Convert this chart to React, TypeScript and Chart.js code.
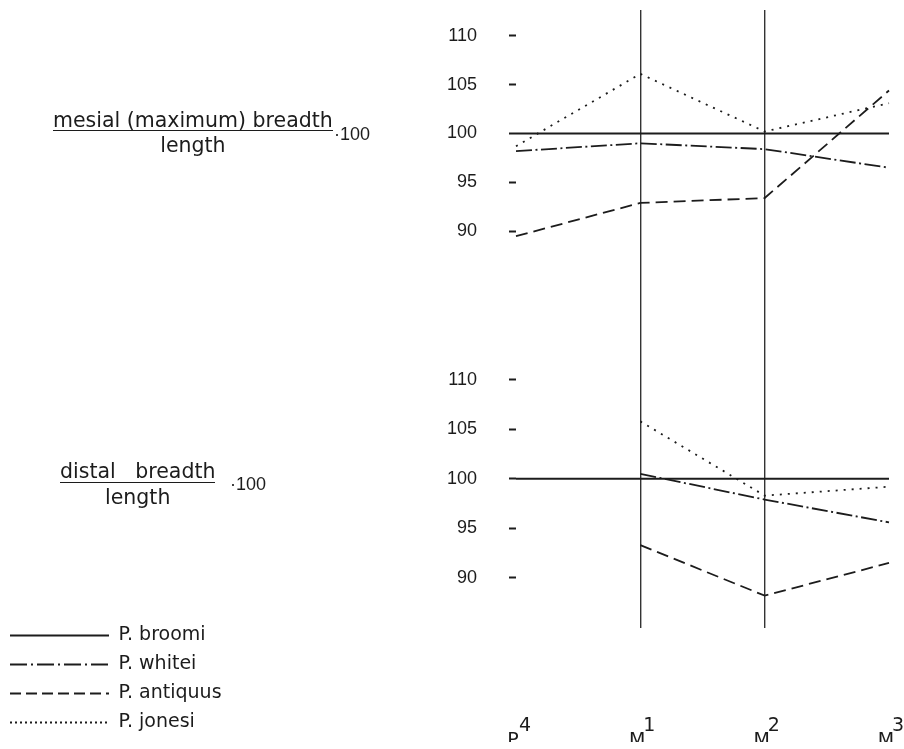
import { useEffect, useRef } from 'react';
import { Chart, registerables } from 'chart.js';

Chart.register(...registerables);

// ---- data ----
const categories = ['P4', 'M1', 'M2', 'M3'];
const tickValues = [90, 95, 100, 105, 110];
const speciesNames = ['P. broomi', 'P. whitei', 'P. antiquus', 'P. jonesi'];

// mesial (maximum) breadth / length · 100
const mesialBroomi = [100, 100, 100, 100];
const mesialWhitei = [98.2, 99.0, 98.4, 96.5];
const mesialAntiquus = [89.5, 92.9, 93.4, 104.4];
const mesialJonesi = [98.7, 106.1, 100.2, 103.1];

// distal breadth / length · 100
const distalBroomi = [100, 100, 100, 100];
const distalWhitei = [null, 100.5, 97.9, 95.6];
const distalAntiquus = [null, 93.3, 88.2, 91.5];
const distalJonesi = [null, 105.8, 98.3, 99.2];

// ---- styles ----
const INK = '#1c1c1c';
const plotDash: number[][] = [[], [16, 3.5, 2, 3.5], [12, 6], [2, 6]];
const legendDash: number[][] = [[], [17, 4, 2, 4], [11, 5], [2, 3]];
const lineWidths = [2, 1.8, 1.8, 1.8];

const buildXLabel = (cat: string) => ['   ' + cat.slice(1), cat.charAt(0) + ' '];

function makeDatasets(series: (number | null)[][], axis: string) {
  return series.map((data, i) => ({
    label: speciesNames[i],
    data,
    yAxisID: axis,
    borderColor: INK,
    backgroundColor: INK,
    borderWidth: lineWidths[i],
    borderDash: plotDash[i],
    borderCapStyle: 'butt' as const,
    pointRadius: 0,
    pointHoverRadius: 0,
    tension: 0,
    spanGaps: false,
    fill: false,
  }));
}

const yTickFont = { family: '"Liberation Sans", Arial, sans-serif', size: 18 };

function yScale(min: number, max: number, weight: number) {
  return {
    type: 'linear' as const,
    position: 'left' as const,
    stack: 'panels',
    stackWeight: 1,
    weight,
    min,
    max,
    afterBuildTicks: (scale: any) => {
      scale.ticks = tickValues.map((v) => ({ value: v }));
    },
    afterFit: (scale: any) => {
      const lw = scale.chart.legend ? scale.chart.legend.width : 0;
      scale.width = 516 - lw;
      scale.paddingTop = 0;
      scale.paddingBottom = 0;
    },
    border: { display: false },
    grid: {
      drawOnChartArea: false,
      drawTicks: true,
      tickLength: 7,
      tickWidth: 2,
      tickColor: INK,
      color: INK,
    },
    ticks: {
      font: yTickFont,
      color: INK,
      padding: 32,
    },
  };
}

// lets the left legend use the width its labels need (the layout caps side boxes narrowly)
const legendWidthFix = {
  id: 'legendWidthFix',
  afterLayout(chart: any) {
    const l = chart.legend;
    if (l && l.columnSizes && l.columnSizes.length) {
      const need = l.columnSizes.reduce((s: number, c: any) => s + c.width, 0) + 30;
      if (need > l.width) {
        l.width = need;
        l.right = l.left + need;
      }
    }
  },
};

function Fraction(props: { left: number; top: number; numerator: string; factorLeft: number; factorTop: number }) {
  const font = '"DejaVu Sans", sans-serif';
  return (
    <>
      <div
        style={{
          position: 'absolute',
          left: props.left,
          top: props.top,
          display: 'inline-block',
          textAlign: 'center',
          fontFamily: font,
          color: INK,
          fontSize: 20.5,
        }}
      >
        <div style={{ lineHeight: '20.5px', borderBottom: `1.5px solid ${INK}`, whiteSpace: 'pre' }}>
          {props.numerator}
        </div>
        <div style={{ lineHeight: '20.5px', marginTop: 4 }}>length</div>
      </div>
      <div
        style={{
          position: 'absolute',
          left: props.factorLeft,
          top: props.factorTop,
          fontFamily: '"Liberation Sans", Arial, sans-serif',
          fontSize: 18,
          lineHeight: '18px',
          color: INK,
          whiteSpace: 'pre',
        }}
      >
        ·100
      </div>
    </>
  );
}

export default function App() {
  const canvasRef = useRef<HTMLCanvasElement>(null);

  useEffect(() => {
    const canvas = canvasRef.current;
    if (!canvas) return;
    const chart = new Chart(canvas, {
      type: 'line',
      data: {
        labels: categories,
        datasets: [
          ...makeDatasets([mesialBroomi, mesialWhitei, mesialAntiquus, mesialJonesi], 'yTop'),
          ...makeDatasets([distalBroomi, distalWhitei, distalAntiquus, distalJonesi], 'yBottom'),
        ] as any,
      },
      plugins: [legendWidthFix],
      options: {
        responsive: false,
        animation: false,
        devicePixelRatio: 1,
        layout: { padding: { left: 0, top: 10, right: 15, bottom: 7 } },
        plugins: {
          tooltip: { enabled: false },
          title: { display: false },
          legend: {
            display: true,
            position: 'left',
            align: 'end',
            labels: {
              usePointStyle: true,
              pointStyle: 'line',
              pointStyleWidth: 99,
              padding: 10,
              color: INK,
              font: { family: '"DejaVu Sans", sans-serif', size: 19 },
              generateLabels: () =>
                speciesNames.map((name, i) => ({
                  text: name,
                  datasetIndex: i,
                  strokeStyle: INK,
                  fillStyle: INK,
                  fontColor: INK,
                  lineWidth: lineWidths[i],
                  lineDash: legendDash[i],
                  lineCap: 'butt',
                  pointStyle: 'line',
                  hidden: false,
                })) as any,
            },
          },
        },
        scales: {
          x: {
            type: 'category',
            offset: false,
            afterFit: (scale: any) => {
              scale.height = 114;
              scale.paddingLeft = 0;
              scale.paddingRight = 0;
            },
            border: { display: false },
            grid: {
              drawTicks: false,
              lineWidth: 1.4,
              color: (ctx: any) => (ctx.index === 1 || ctx.index === 2 ? '#333' : 'rgba(0,0,0,0)'),
            },
            ticks: {
              autoSkip: false,
              maxRotation: 0,
              padding: 91,
              color: INK,
              font: { family: '"DejaVu Sans", sans-serif', size: 19, lineHeight: 0.78 },
              callback: (_v: any, index: number) => buildXLabel(categories[index]),
            },
          },
          yTop: yScale(81.03, 112.63, 2),
          yBottom: yScale(84.93, 116.14, 1),
        } as any,
      },
    });
    return () => chart.destroy();
  }, []);

  return (
    <div
      style={{
        position: 'absolute',
        left: 0,
        top: 0,
        width: 904,
        height: 749,
        background: '#fff',
        overflow: 'hidden',
      }}
    >
      <canvas ref={canvasRef} width={904} height={749} style={{ display: 'block', width: 904, height: 749 }} />
      <Fraction left={53} top={109.7} numerator="mesial (maximum) breadth" factorLeft={334} factorTop={124.8} />
      <Fraction left={60} top={461.3} numerator={'distal   breadth'} factorLeft={230} factorTop={474.8} />
    </div>
  );
}
